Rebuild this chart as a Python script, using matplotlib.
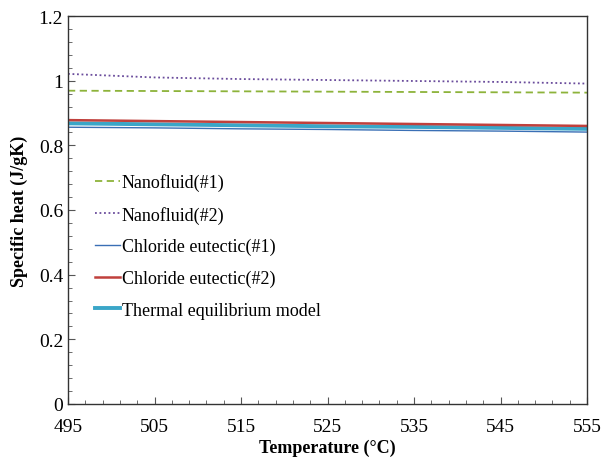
import matplotlib
matplotlib.use("Agg")
import matplotlib.pyplot as plt
import numpy as np
from matplotlib.ticker import MultipleLocator, FixedLocator

temperature = [495, 505, 515, 525, 535, 545, 555]
nanofluid_1 = [0.969, 0.968, 0.967, 0.966, 0.965, 0.964, 0.963]
nanofluid_2 = [1.021, 1.010, 1.005, 1.002, 0.999, 0.996, 0.991]
chloride_1 = [0.856, 0.854, 0.851, 0.849, 0.846, 0.844, 0.841]
chloride_2 = [0.878, 0.875, 0.872, 0.869, 0.866, 0.863, 0.860]
thermal_eq = [0.868, 0.865, 0.862, 0.859, 0.857, 0.854, 0.851]

plt.rcParams['font.family'] = ['Liberation Serif', 'DejaVu Serif']

fig = plt.figure(figsize=(6.02, 4.6), dpi=100)
ax = fig.add_axes([68/602, 55/460, 519/602, 388/460])

ax.plot(temperature, nanofluid_1, color="#8db33a", ls=(0, (4, 2.5)), lw=1.3, label="Nanofluid(#1)")
ax.plot(temperature, nanofluid_2, color="#6a4c9c", ls=(0, (1, 1.5)), lw=1.3, label="Nanofluid(#2)")
ax.plot(temperature, chloride_1, color="#3a6fb5", lw=1.0, label="Chloride eutectic(#1)")
ax.plot(temperature, chloride_2, color="#c0403c", lw=1.8, label="Chloride eutectic(#2)")
ax.plot(temperature, thermal_eq, color="#3aa6c8", lw=2.8, label="Thermal equilibrium model", zorder=1.9)

ax.set_xlim(495, 555)
ax.set_ylim(0, 1.2)
ax.set_xticks(temperature)
ax.xaxis.set_minor_locator(FixedLocator(np.arange(495, 556, 2)))
ax.yaxis.set_minor_locator(MultipleLocator(0.04))
ax.set_yticks([0, 0.2, 0.4, 0.6, 0.8, 1.0, 1.2])
ax.set_yticklabels(["0", "0.2", "0.4", "0.6", "0.8", "1", "1.2"])
ax.tick_params(which="both", direction="in", labelsize=14, color="#555555")
ax.tick_params(which="major", length=5)
ax.tick_params(which="minor", length=3)
ax.tick_params(axis="x", pad=10)
for s in ax.spines.values():
    s.set_color("#333333")
    s.set_linewidth(1.0)

ax.set_xlabel("Temperature (°C)", fontsize=13, fontweight="bold", labelpad=3)
ax.set_ylabel("Specific heat (J/gK)", fontsize=13, fontweight="bold", labelpad=8)

ax.legend(loc="lower left", bbox_to_anchor=(0.02, 0.178), frameon=False, fontsize=13,
          handlelength=1.4, handletextpad=0.1, labelspacing=0.8)

fig.savefig("out.png", dpi=100)
